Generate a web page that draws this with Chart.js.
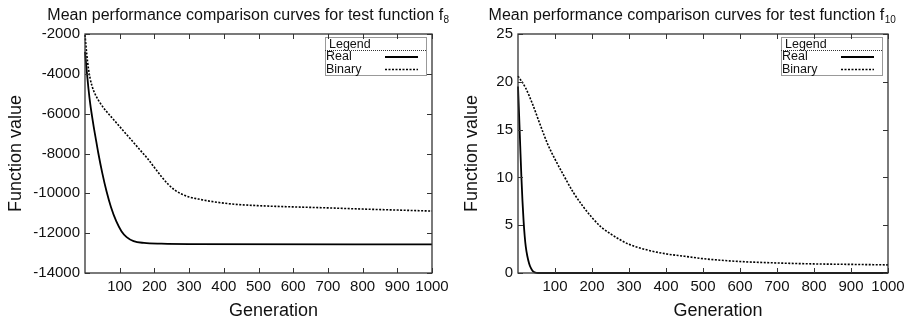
<!DOCTYPE html>
<html>
<head>
<meta charset="utf-8">
<script src="https://cdn.jsdelivr.net/npm/chart.js@4.4.0/dist/chart.umd.min.js"></script>
<style>
  html, body { margin: 0; padding: 0; background: #fff; }
  .panel { position: absolute; top: 0; width: 459px; height: 323px; }
</style>
</head>
<body>
<div class="panel" style="left:0"><canvas id="chartF8" width="459" height="323"></canvas></div>
<div class="panel" style="left:459px"><canvas id="chartF10" width="459" height="323"></canvas></div>
<script>
// tick labels
const xTickValues = [100, 200, 300, 400, 500, 600, 700, 800, 900, 1000];
const f8YTicks = [-14000, -12000, -10000, -8000, -6000, -4000, -2000];
const f10YTicks = [0, 5, 10, 15, 20, 25];
const seriesLabels = ['Real', 'Binary'];

// f8 - Real
const f8RealGen = [0, 5, 10, 15, 20, 25, 30, 38, 50, 62, 75, 90, 105, 120, 140, 170, 220, 300, 1000];
const f8RealVal = [-2900, -3850, -4750, -5500, -6100, -6650, -7150, -7950, -9000, -9900, -10700, -11400, -11900, -12200, -12400, -12490, -12530, -12550, -12560];
// f8 - Binary
const f8BinGen = [0, 5, 10, 15, 20, 30, 45, 60, 80, 100, 130, 160, 180, 200, 220, 240, 260, 280, 300, 330, 370, 420, 500, 600, 700, 800, 900, 1000];
const f8BinVal = [-2050, -3000, -3750, -4250, -4600, -5050, -5500, -5850, -6250, -6650, -7250, -7850, -8250, -8700, -9150, -9550, -9850, -10050, -10180, -10300, -10420, -10530, -10620, -10680, -10730, -10790, -10840, -10890];

// f10 - Real
const f10RealGen = [0, 3, 6, 9, 12, 15, 18, 21, 25, 30, 35, 40, 45, 50, 60, 1000];
const f10RealVal = [19.5, 16.5, 13.3, 10.2, 7.6, 5.5, 3.9, 2.75, 1.8, 1.0, 0.5, 0.2, 0.07, 0.02, 0, 0];
// f10 - Binary
const f10BinGen = [0, 20, 40, 60, 80, 100, 125, 150, 175, 200, 225, 250, 275, 300, 350, 400, 450, 500, 550, 600, 700, 800, 900, 1000];
const f10BinVal = [20.6, 19.4, 17.6, 15.5, 13.5, 11.9, 10.1, 8.4, 7.0, 5.8, 4.8, 4.1, 3.5, 3.0, 2.4, 2.0, 1.75, 1.5, 1.33, 1.2, 1.05, 0.95, 0.9, 0.85];

const FONT = '"Liberation Sans", Arial, Helvetica, sans-serif';

function toPoints(gen, val) {
  return gen.map(function(g, i) { return { x: g, y: val[i] }; });
}

// gnuplot style frame: box, inward ticks, titles and the boxed legend
const gnuplotFrame = {
  id: 'gnuplotFrame',
  afterDraw: function(chart, args, opts) {
    const ctx = chart.ctx;
    const a = chart.chartArea;
    const x = chart.scales.x, y = chart.scales.y;
    ctx.save();

    // border + inward tick marks
    ctx.strokeStyle = '#333';
    ctx.lineWidth = 1.3;
    ctx.strokeRect(a.left, a.top, a.right - a.left, a.bottom - a.top);
    ctx.lineWidth = 1;
    ctx.beginPath();
    x.ticks.forEach(function(t) {
      const px = Math.round(x.getPixelForValue(t.value)) + 0.5;
      ctx.moveTo(px, a.bottom); ctx.lineTo(px, a.bottom - 5);
      ctx.moveTo(px, a.top); ctx.lineTo(px, a.top + 5);
    });
    y.ticks.forEach(function(t) {
      const py = Math.round(y.getPixelForValue(t.value)) + 0.5;
      ctx.moveTo(a.left, py); ctx.lineTo(a.left + 5, py);
      ctx.moveTo(a.right, py); ctx.lineTo(a.right - 5, py);
    });
    ctx.stroke();

    // chart title with subscript
    ctx.fillStyle = '#111';
    ctx.textBaseline = 'alphabetic';
    ctx.textAlign = 'left';
    ctx.font = '16px ' + FONT;
    const w1 = ctx.measureText(opts.title).width;
    ctx.font = '10px ' + FONT;
    const w2 = ctx.measureText(opts.sub).width;
    const tx = opts.titleCenter - (w1 + w2) / 2;
    ctx.font = '16px ' + FONT;
    ctx.fillText(opts.title, tx, 20);
    ctx.font = '10px ' + FONT;
    ctx.fillText(opts.sub, tx + w1 + 0.5, 23);

    // axis titles
    ctx.font = '18px ' + FONT;
    ctx.textAlign = 'center';
    ctx.textBaseline = 'middle';
    ctx.fillText('Generation', (a.left + a.right) / 2 + 15, 311);
    ctx.save();
    ctx.translate(opts.yTitleX, (a.top + a.bottom) / 2);
    ctx.rotate(-Math.PI / 2);
    ctx.fillText('Function value', 0, 0);
    ctx.restore();

    // legend box
    const bw = 101, bh = 38;
    const bx = a.right - 6 - bw, by = a.top + 3;
    ctx.strokeStyle = '#333';
    ctx.lineWidth = 1;
    ctx.setLineDash([1, 1]);
    ctx.strokeRect(bx + 0.5, by + 0.5, bw, bh);
    ctx.beginPath();
    ctx.moveTo(bx, by + 13.5); ctx.lineTo(bx + bw, by + 13.5);
    ctx.stroke();
    ctx.setLineDash([]);
    ctx.font = '12.5px ' + FONT;
    ctx.textAlign = 'left';
    ctx.fillText('Legend', bx + 4, by + 7.5);
    chart.data.datasets.forEach(function(ds, i) {
      const ly = by + 20 + i * 12.5;
      ctx.fillStyle = '#111';
      ctx.fillText(ds.label, bx + 1, ly);
      ctx.strokeStyle = ds.borderColor;
      ctx.lineWidth = ds.borderWidth;
      ctx.setLineDash(ds.borderDash || []);
      ctx.beginPath();
      ctx.moveTo(bx + bw - 41, ly); ctx.lineTo(bx + bw - 8, ly);
      ctx.stroke();
      ctx.setLineDash([]);
    });
    ctx.restore();
  }
};

function makeChart(canvasId, realPts, binPts, yTicks, yMin, yMax, frameOpts, yWidth, padRight) {
  return new Chart(document.getElementById(canvasId), {
    type: 'line',
    data: {
      datasets: [
        {
          label: seriesLabels[0],
          data: realPts,
          borderColor: '#000',
          borderWidth: 1.8,
          pointRadius: 0,
          cubicInterpolationMode: 'monotone',
          clip: false
        },
        {
          label: seriesLabels[1],
          data: binPts,
          borderColor: '#000',
          borderWidth: 1.6,
          borderDash: [2, 1.5],
          pointRadius: 0,
          cubicInterpolationMode: 'monotone',
          clip: false
        }
      ]
    },
    options: {
      responsive: false,
      animation: false,
      layout: { padding: { top: 34, right: padRight, left: 0, bottom: 0 } },
      plugins: {
        legend: { display: false },
        tooltip: { enabled: false },
        gnuplotFrame: frameOpts
      },
      scales: {
        x: {
          type: 'linear',
          min: 0,
          max: 1000,
          grid: { display: false, drawTicks: false },
          border: { display: false },
          afterBuildTicks: function(scale) {
            scale.ticks = xTickValues.map(function(v) { return { value: v }; });
          },
          afterFit: function(scale) { scale.height = 50; },
          ticks: {
            padding: 5,
            maxRotation: 0,
            autoSkip: false,
            color: '#111',
            font: { family: FONT, size: 15 },
            callback: function(v) { return String(v); }
          }
        },
        y: {
          type: 'linear',
          min: yMin,
          max: yMax,
          grid: { display: false, drawTicks: false },
          border: { display: false },
          afterBuildTicks: function(scale) {
            scale.ticks = yTicks.map(function(v) { return { value: v }; });
          },
          afterFit: function(scale) { scale.width = yWidth; },
          ticks: {
            padding: 5,
            autoSkip: false,
            color: '#111',
            font: { family: FONT, size: 15 },
            callback: function(v) { return String(v); }
          }
        }
      }
    },
    plugins: [gnuplotFrame]
  });
}

makeChart('chartF8', toPoints(f8RealGen, f8RealVal), toPoints(f8BinGen, f8BinVal),
  f8YTicks, -14000, -2000,
  { title: 'Mean performance comparison curves for test function f', sub: '8', titleCenter: 248, yTitleX: 16 },
  85, 27);

makeChart('chartF10', toPoints(f10RealGen, f10RealVal), toPoints(f10BinGen, f10BinVal),
  f10YTicks, 0, 25,
  { title: 'Mean performance comparison curves for test function f', sub: '10', titleCenter: 233, yTitleX: 13 },
  59, 30);
</script>
</body>
</html>
